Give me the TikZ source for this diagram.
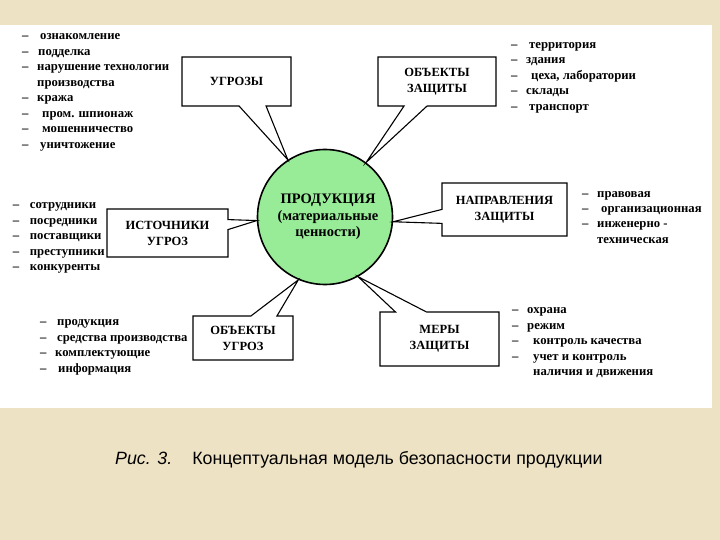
\documentclass[tikz,border=0pt]{standalone}
\usepackage{fontspec}
\setmainfont{Liberation Serif}
\setsansfont{Liberation Sans}
\usetikzlibrary{shapes.callouts}
\definecolor{parch}{RGB}{238,226,197}
\definecolor{prodgreen}{RGB}{152,236,152}
\newcommand{\itm}[2][0pt]{\makebox[15pt][l]{--}\hspace*{#1}#2}
\newcommand{\cnt}[2][0pt]{\hspace*{15pt}\hspace*{#1}#2}

\begin{document}
\begin{tikzpicture}[x=1pt,y=-1pt,
	box/.style={rectangle callout, draw, line width=1.1pt, fill=white, inner sep=0pt, align=center,
		font=\bfseries\fontsize{12.5}{16}\selectfont},
	lst/.style={anchor=base west, inner sep=0pt, align=left,
		font=\bfseries\fontsize{12.7}{15.5}\selectfont}]
	\useasboundingbox (0,0) rectangle (720,540);
	\fill[parch] (0,0) rectangle (720,540);
	\fill[white] (0,25) rectangle (712,408);

	% centre
	\node[circle, draw, line width=1.6pt, fill=prodgreen, minimum size=135pt, inner sep=0pt, align=center,
		font=\bfseries\fontsize{14.5}{16.5}\selectfont] (prod) at (325,217)
		{\hspace*{6pt}ПРОДУКЦИЯ\\\hspace*{6pt}(материальные\\\hspace*{6pt}ценности)};

	% callouts
	\node[box, minimum width=109pt, minimum height=49pt, callout pointer width=27pt,
		callout absolute pointer={(prod.123)}] (ugr) at (236.5,81.5) {УГРОЗЫ};
	\node[box, minimum width=118pt, minimum height=49pt, callout pointer width=23pt,
		callout absolute pointer={(prod.53)}] (obz) at (437,81.5) {ОБЪЕКТЫ\\ЗАЩИТЫ};
	\node[box, minimum width=121pt, minimum height=48pt, callout pointer width=10pt,
		callout absolute pointer={(prod.183)}] (ist) at (167.5,233) {ИСТОЧНИКИ\\УГРОЗ};
	\node[box, minimum width=125pt, minimum height=53pt, callout pointer width=14pt,
		callout absolute pointer={(prod.356)}] (npr) at (504.5,209.5) {НАПРАВЛЕНИЯ\\ЗАЩИТЫ};
	\node[box, minimum width=100pt, minimum height=44pt, callout pointer width=26pt,
		callout absolute pointer={(prod.247)}] (obu) at (243,338) {ОБЪЕКТЫ\\УГРОЗ};
	\node[box, minimum width=119pt, minimum height=54pt, callout pointer width=31pt,
		callout absolute pointer={(prod.299)}] (mer) at (439.5,339) {МЕРЫ\\ЗАЩИТЫ};

	% lists (placed at the baseline of their last line)
	\node[lst] (ugrl) at (22,148.5) {\itm[3pt]{ознакомление}\\\itm[1pt]{подделка}\\
		\itm{нарушение технологии}\\\cnt{производства}\\\itm{кража}\\
		\itm[5pt]{пром. шпионаж}\\\itm[5pt]{мошенничество}\\\itm[3pt]{уничтожение}};
	\node[lst] (obzl) at (511,110.5) {\itm[3pt]{территория}\\\itm{здания}\\
		\itm[5pt]{цеха, лаборатории}\\\itm{склады}\\\itm[3pt]{транспорт}};
	\node[lst] (istl) at (12.7,270.5) {\itm[2pt]{сотрудники}\\\itm[2pt]{посредники}\\
		\itm[2pt]{поставщики}\\\itm[2pt]{преступники}\\\itm[2pt]{конкуренты}};
	\node[lst] (nprl) at (582,243.5) {\itm{правовая}\\\itm[4pt]{организационная}\\
		\itm{инженерно -}\\\cnt{техническая}};
	\node[lst] (obul) at (40,372) {\itm[2pt]{продукция}\\\itm[2pt]{средства производства}\\
		\itm{комплектующие}\\\itm[3pt]{информация}};
	\node[lst] (merl) at (512,375.5) {\itm{охрана}\\\itm{режим}\\
		\itm[6pt]{контроль качества}\\\itm[6pt]{учет и контроль}\\\cnt[6pt]{наличия и движения}};

	% caption
	\node[anchor=base west, inner sep=0pt, font=\sffamily\fontsize{17.8}{20}\selectfont] (cap)
		at (115,464) {\textit{Рис. 3.}\hspace{20pt}Концептуальная модель безопасности продукции};
\end{tikzpicture}
\end{document}
